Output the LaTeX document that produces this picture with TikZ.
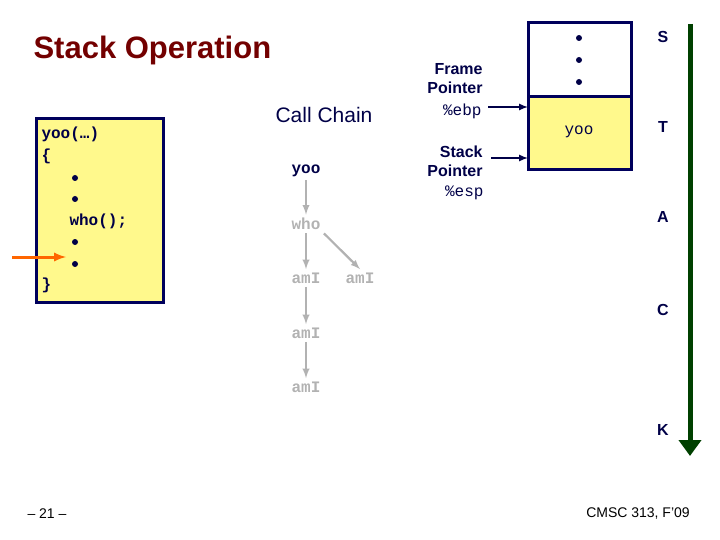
\documentclass[tikz,border=0pt]{standalone}
\usepackage{fontspec}
\usetikzlibrary{arrows.meta}
\setmainfont{Liberation Sans}
\setmonofont{Liberation Mono}
\begin{document}
\begin{tikzpicture}[x=1pt,y=-1pt,
  navy/.style={draw=black!40!blue!60!black,line width=3pt},
  code/.style={font=\ttfamily\bfseries\fontsize{16}{18}\selectfont,text=black!30!blue!40!black},
  gcode/.style={font=\ttfamily\bfseries\fontsize{16}{18}\selectfont,text=black!30},
  garr/.style={draw=black!30,line width=2.2pt,-latex},
  lab/.style={font=\bfseries\fontsize{16}{19}\selectfont,text=black!30!blue!40!black,align=right},
  dot/.style={circle,fill=black!30!blue!40!black,inner sep=0pt,minimum size=6pt}]
\useasboundingbox (0,0) rectangle (720,540);
\node[anchor=west,font=\bfseries\fontsize{31}{36}\selectfont,text=red!45!black] (title) at (30,50) {Stack Operation};
\node[font=\fontsize{21}{25}\selectfont,text=black!30!blue!40!black] (cc) at (324,115) {Call Chain};
% code box
\draw[navy,fill=yellow!45] (36,119) rectangle (163,302);
\node[code,anchor=west] (c1) at (38,134) {yoo(…)};
\node[code,anchor=west] (c2) at (38,156) {\{};
\node[dot] (d1) at (75,178) {};
\node[dot] (d2) at (75,199) {};
\node[code,anchor=west] (c3) at (66,221) {who();};
\node[dot] (d3) at (75,242) {};
\node[dot] (d4) at (75,264) {};
\node[code,anchor=west] (c4) at (38,285) {\}};
\coordinate (oa) at (12,257);
\coordinate (ob) at (66,257);
\draw[draw=orange!80!red,line width=3pt,-latex] (oa) -- (ob);
% call chain
\node[code] (yoo) at (306,171) {yoo};
\node[gcode] (who) at (306,224) {who};
\node[gcode] (a1) at (306,278) {amI};
\node[gcode] (a2) at (360,278) {amI};
\node[gcode] (a3) at (306,333) {amI};
\node[gcode] (a4) at (306,387) {amI};
\draw[garr] (yoo) -- (who);
\draw[garr] (who) -- (a1);
\draw[garr] (who.south east) -- (a2.north);
\draw[garr] (a1) -- (a3);
\draw[garr] (a3) -- (a4);
% stack
\draw[navy,fill=white] (528,23) rectangle (631,97);
\draw[navy,fill=yellow!45] (528,97) rectangle (631,170);
\node[dot] (s1) at (579,38) {};
\node[dot] (s2) at (579,60) {};
\node[dot] (s3) at (579,82) {};
\node[code,font=\ttfamily\fontsize{16}{18}\selectfont] (syoo) at (579,132) {yoo};
\node[lab] (fp) at (455,79) {Frame\\Pointer};
\node[code,font=\ttfamily\fontsize{16}{18}\selectfont,anchor=east] (ebp) at (485,111) {\%ebp};
\node[lab] (sp) at (455,161) {Stack\\Pointer};
\node[code,font=\ttfamily\fontsize{16}{18}\selectfont,anchor=east] (esp) at (487,193) {\%esp};
\coordinate (fpa) at (488,107);
\coordinate (fpb) at (528,107);
\coordinate (spa) at (491,158);
\coordinate (spb) at (528,158);
\draw[draw=black!30!blue!40!black,line width=2pt,-latex] (fpa) -- (fpb);
\draw[draw=black!30!blue!40!black,line width=2pt,-latex] (spa) -- (spb);
\foreach \t/\y in {S/37,T/127,A/217,C/310,K/430}
  \node[font=\bfseries\fontsize{16}{18}\selectfont,text=black!30!blue!40!black] (L\t) at (663,\y) {\t};
\coordinate (ga) at (690,24);
\coordinate (gb) at (690,456);
\draw[draw=green!25!black,line width=5pt,-{Triangle[length=16pt,width=22pt]}] (ga) -- (gb);
\node[font=\fontsize{14}{16}\selectfont] (pg) at (47,514) {– 21 –};
\node[font=\fontsize{14}{16}\selectfont] (cm) at (638,514) {CMSC 313, F’09};
\end{tikzpicture}
\end{document}
